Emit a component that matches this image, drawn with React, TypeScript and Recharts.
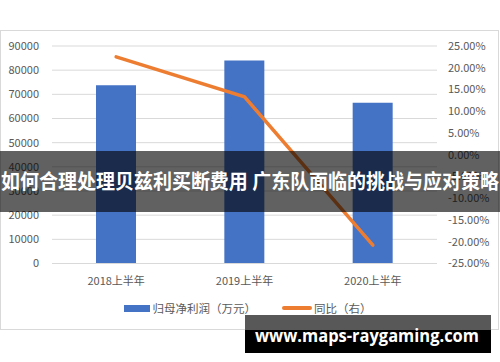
import React from 'react';
import { ComposedChart, Bar, Line, XAxis, YAxis, CartesianGrid, Legend } from 'recharts';

const categories = ['2018上半年', '2019上半年', '2020上半年'];
const netProfit = [73800, 84000, 66500];
const yoyGrowth = [0.225, 0.133, -0.208];
const leftTicks = [0, 10000, 20000, 30000, 40000, 50000, 60000, 70000, 80000, 90000];
const rightTicks = [-0.25, -0.2, -0.15, -0.1, -0.05, 0, 0.05, 0.1, 0.15, 0.2, 0.25];
const seriesNames = ['归母净利润（万元）', '同比（右）'];
const titleText = '如何合理处理贝兹利买断费用 广东队面临的挑战与应对策略';
const watermarkText = 'www.maps-raygaming.com';

const data = categories.map((name, i) => ({ name, profit: netProfit[i], yoy: yoyGrowth[i] }));

const FONT = '"Noto Sans CJK SC", "Noto Sans", sans-serif';
const BLUE = '#4472C4';
const ORANGE = '#ED7D31';
const TEXT = '#595959';

const pct = (v: number) => (v * 100).toFixed(2) + '%';

const renderLegend = () => (
  <div
    style={{
      display: 'flex',
      justifyContent: 'center',
      alignItems: 'center',
      height: 16,
      fontFamily: FONT,
      fontSize: 11.5,
      color: TEXT,
      paddingRight: 5,
    }}
  >
    <span style={{ display: 'inline-block', width: 26, height: 7, background: BLUE, marginRight: 3 }} />
    <span style={{ marginRight: 26 }}>{seriesNames[0]}</span>
    <span style={{ display: 'inline-block', width: 30, height: 4, borderRadius: 2, background: ORANGE, marginRight: 2 }} />
    <span>{seriesNames[1]}</span>
  </div>
);

export default function App() {
  return (
    <div style={{ position: 'absolute', left: 0, top: 0, width: 500, height: 362, background: '#fff', overflow: 'hidden' }}>
      <div
        style={{
          position: 'absolute',
          left: 0,
          top: 30,
          width: 499,
          height: 300,
          border: '1px solid #d9d9d9',
          boxSizing: 'border-box',
        }}
      />
      <div style={{ position: 'absolute', left: 0, top: 0 }}>
        <ComposedChart
          width={500}
          height={362}
          data={data}
          margin={{ top: 46, right: 0, left: 0, bottom: 52.5 }}
          barCategoryGap="34%"
        >
          <CartesianGrid vertical={false} stroke="#d9d9d9" yAxisId="left" />
          <XAxis
            dataKey="name"
            height={30}
            tickLine={false}
            tickSize={0}
            tickMargin={14}
            axisLine={{ stroke: '#d9d9d9' }}
            tick={{ fill: TEXT, fontSize: 11, fontFamily: FONT }}
          />
          <YAxis
            yAxisId="left"
            orientation="left"
            width={52}
            domain={[0, 90000]}
            ticks={leftTicks}
            interval={0}
            tickLine={false}
            tickSize={0}
            tickMargin={13}
            axisLine={false}
            tick={{ fill: TEXT, fontSize: 11, fontFamily: FONT }}
          />
          <YAxis
            yAxisId="right"
            orientation="right"
            width={63}
            domain={[-0.25, 0.25]}
            ticks={rightTicks}
            interval={0}
            tickFormatter={pct}
            tickLine={false}
            tickSize={0}
            tickMargin={11}
            axisLine={false}
            tick={{ fill: TEXT, fontSize: 11, fontFamily: FONT }}
          />
          <Legend
            verticalAlign="bottom"
            content={renderLegend}
            wrapperStyle={{ top: 300, left: 0, width: 500, height: 16 }}
          />
          <Bar yAxisId="left" dataKey="profit" name={seriesNames[0]} fill={BLUE} barSize={40} isAnimationActive={false} />
          <Line
            yAxisId="right"
            type="linear"
            dataKey="yoy"
            name={seriesNames[1]}
            stroke={ORANGE}
            strokeWidth={3.5}
            strokeLinecap="round"
            dot={false}
            activeDot={false}
            isAnimationActive={false}
          />
        </ComposedChart>
      </div>
      <svg width={500} height={362} style={{ position: 'absolute', left: 0, top: 0, pointerEvents: 'none' }}>
        <rect x={0} y={151} width={500} height={61} fill="rgba(0,0,0,0.62)" />
        <text
          x={1}
          y={189}
          textLength={498}
          lengthAdjust="spacingAndGlyphs"
          fill="#fff"
          fontFamily={FONT}
          fontWeight={700}
          fontSize={20}
        >
          {titleText}
        </text>
        <rect x={245} y={315} width={246} height={15} fill="#585858" />
        <rect x={245} y={330} width={246} height={23} fill="#000" />
        <text
          x={255}
          y={342}
          textLength={224}
          lengthAdjust="spacingAndGlyphs"
          fill="#fff"
          fontFamily='"Open Sans", "DejaVu Sans", sans-serif'
          fontWeight={700}
          fontSize={17}
        >
          {watermarkText}
        </text>
      </svg>
    </div>
  );
}
